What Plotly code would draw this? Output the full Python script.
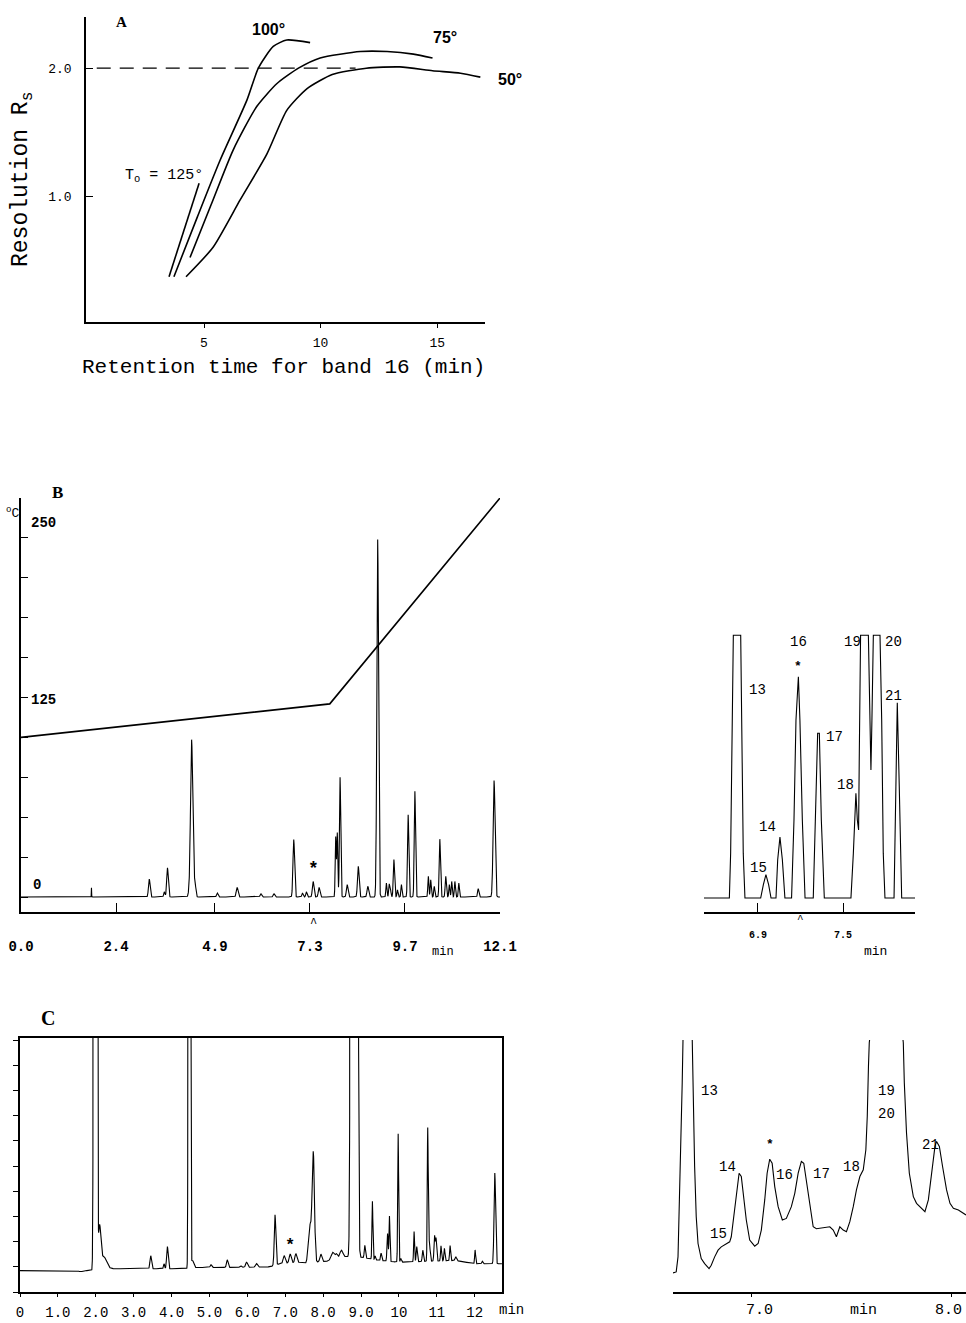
import numpy as np
import plotly.graph_objects as go

W, H = 966, 1323
def fx(p): return p / W
def fy(p): return 1 - p / H

MONO = "Liberation Mono"
SERIF = "Liberation Serif"

# ---------------- Panel A: resolution vs retention time ----------------
a125_x = [3.5, 4.79]
a125_y = [0.37, 1.10]
a100_x = [3.71, 4.7, 5.69, 6.84, 7.33, 7.97, 8.55, 9.55]
a100_y = [0.37, 0.83, 1.28, 1.75, 2.00, 2.17, 2.22, 2.20]
a75_x = [4.40, 5.3, 6.25, 7.26, 8.13, 9.05, 9.98, 11.7, 12.85, 13.98, 14.8]
a75_y = [0.52, 0.93, 1.36, 1.70, 1.88, 2.00, 2.08, 2.13, 2.13, 2.11, 2.08]
a50_x = [4.23, 5.39, 6.55, 7.70, 8.55, 9.42, 10.5, 11.96, 13.4, 14.8, 16.0, 16.85]
a50_y = [0.37, 0.60, 0.97, 1.33, 1.67, 1.84, 1.95, 2.00, 2.01, 1.98, 1.96, 1.93]
a_ref_x = [0.4, 11.5]
a_ref_y = [2.0, 2.0]
a_xticks = [5, 10, 15]
a_yticks = [1.0, 2.0]

# ---------------- Panel B: temperature program + chromatogram ----------------
temp_t = [0.0, 7.8, 12.1]
temp_c = [100, 121, 250]
b_peak_t = [1.78, 3.24, 3.62, 3.70, 4.25, 4.31, 4.39, 4.96, 5.46, 6.06, 6.39, 6.89,
            7.11, 7.21, 7.38, 7.53, 7.95, 7.99, 8.06, 8.24, 8.52, 8.76, 9.01, 9.23,
            9.30, 9.33, 9.42, 9.51, 9.61, 9.78, 9.95, 10.29, 10.35, 10.44, 10.58,
            10.73, 10.82, 10.88, 10.96, 11.06, 11.55, 11.95]
b_peak_h = [2.3, 4.5, 1.3, 7.3, 1.4, 39.4, 4.0, 1.0, 2.4, 0.8, 0.8, 14.4,
            1.0, 1.3, 3.9, 2.4, 15.0, 16.0, 30.0, 3.1, 7.7, 2.7, 89.6, 3.5,
            3.1, 2.3, 9.4, 1.8, 3.1, 20.6, 26.5, 5.2, 4.3, 2.7, 14.5,
            5.2, 3.1, 3.9, 3.9, 3.5, 2.1, 29.2]
b_peak_w = [0.004, 0.02, 0.016, 0.02, 0.022, 0.027, 0.022, 0.02, 0.022, 0.02, 0.02, 0.02,
            0.016, 0.016, 0.02, 0.02, 0.013, 0.013, 0.016, 0.02, 0.02, 0.02, 0.021, 0.013,
            0.013, 0.013, 0.016, 0.013, 0.013, 0.016, 0.016, 0.013, 0.013, 0.013, 0.016,
            0.015, 0.013, 0.013, 0.013, 0.013, 0.016, 0.024]
b_xticks = [0.0, 2.4, 4.9, 7.3, 9.7, 12.1]
b_temp_ticks = list(range(0, 251, 25))

# ---------------- Panel B inset (trace) ----------------
bi_t = [6.519, 6.698, 6.707, 6.719, 6.726, 6.778, 6.785, 6.796, 6.808, 6.919, 6.938,
        6.956, 6.975, 6.992, 7.027, 7.039, 7.055, 7.072, 7.090, 7.137, 7.154, 7.168,
        7.185, 7.196, 7.213, 7.232, 7.290, 7.307, 7.321, 7.333, 7.347, 7.368, 7.556,
        7.573, 7.591, 7.601, 7.610, 7.615, 7.624, 7.679, 7.690, 7.697, 7.704, 7.714,
        7.761, 7.773, 7.784, 7.796, 7.860, 7.871, 7.883, 7.897, 7.914, 8.008]
bi_y = [0, 0, 17.1, 67.7, 100, 100, 67.7, 17.1, 0, 0, 5.1,
        8.9, 5.1, 0, 0, 14.6, 23.2, 14.6, 0, 0, 29.7, 67.7,
        84.2, 67.7, 29.7, 0, 0, 29.7, 62.7, 62.7, 29.7, 0, 0,
        17.1, 39.9, 29.7, 25.9, 55.1, 100, 100, 67.7, 48.7, 67.7, 100,
        100, 67.7, 17.1, 0, 0, 42.4, 74.3, 42.4, 0, 0]
bi_xticks = [6.9, 7.5]

# ---------------- Panel C main chromatogram ----------------
c_base_t = [0.0, 1.5, 1.6, 1.7, 1.9, 2.3, 2.5, 4.3, 4.6, 6.0, 6.6, 6.8, 7.0, 7.4,
            7.55, 7.9, 8.1, 8.6, 9.0, 9.5, 10.0, 11.5, 12.0, 12.72]
c_base_y = [0.85, 0.85, 0.80, 0.85, 0.85, 0.95, 0.92, 0.92, 0.97, 0.98, 1.0, 1.1, 1.15, 1.18,
            1.12, 1.2, 1.22, 1.4, 1.38, 1.25, 1.18, 1.25, 1.12, 1.12]
c_peak_t = [1.99, 2.10, 2.20, 3.45, 3.80, 3.89, 4.47, 4.55, 5.04, 5.47, 5.82, 5.98,
            6.24, 6.73, 6.97, 7.13, 7.28, 7.65, 7.74, 7.94, 8.25, 8.35, 8.48, 8.82,
            9.10, 9.30, 9.37, 9.53, 9.70, 9.75, 9.98, 10.05, 10.40, 10.47, 10.63,
            10.76, 10.80, 10.94, 10.98, 11.11, 11.20, 11.35, 11.50, 12.01, 12.20, 12.53]
c_peak_h = [400, 1.6, 0.5, 0.52, 0.2, 0.88, 300, 0.3, 0.11, 0.3, 0.07, 0.2,
            0.14, 2.0, 0.3, 0.35, 0.35, 1.5, 4.3, 0.3, 0.3, 0.2, 0.3, 2000,
            0.5, 2.3, 0.15, 0.3, 1.1, 1.8, 5.1, 0.15, 1.2, 0.6, 0.45,
            5.2, 0.8, 1.0, 0.9, 0.6, 0.5, 0.6, 0.15, 0.55, 0.1, 3.6]
c_peak_w = [0.022, 0.03, 0.07, 0.02, 0.015, 0.02, 0.015, 0.03, 0.02, 0.02, 0.02, 0.025,
            0.025, 0.02, 0.025, 0.025, 0.025, 0.04, 0.03, 0.025, 0.04, 0.03, 0.04, 0.035,
            0.015, 0.012, 0.012, 0.015, 0.015, 0.012, 0.012, 0.015, 0.012, 0.015, 0.015,
            0.012, 0.02, 0.015, 0.015, 0.013, 0.013, 0.013, 0.02, 0.012, 0.015, 0.02]
c_xticks = [0, 1, 2, 3, 4, 5, 6, 7, 8, 9, 10, 11, 12]
c_xlabels = ["0", "1.0", "2.0", "3.0", "4.0", "5.0", "6.0", "7.0", "8.0", "9.0", "10", "11", "12"]

# ---------------- Panel C inset (trace) ----------------
ci_t = [6.607, 6.623, 6.632, 6.640, 6.648, 6.653, 6.657, 6.680, 6.703, 6.707, 6.715, 6.723,
        6.732, 6.748, 6.765, 6.787, 6.798, 6.815, 6.832, 6.848, 6.873, 6.890, 6.898, 6.910,
        6.923, 6.937, 6.948, 6.960, 6.973, 6.990, 7.015, 7.032, 7.048, 7.065, 7.077, 7.090,
        7.102, 7.115, 7.132, 7.153, 7.173, 7.198, 7.215, 7.232, 7.248, 7.260, 7.273, 7.290,
        7.307, 7.323, 7.357, 7.390, 7.407, 7.423, 7.440, 7.457, 7.473, 7.490, 7.507, 7.523,
        7.540, 7.557, 7.570, 7.577, 7.583, 7.587, 7.673, 7.757, 7.762, 7.773, 7.787, 7.807,
        7.823, 7.848, 7.865, 7.882, 7.898, 7.915, 7.923, 7.937, 7.953, 7.973, 7.990, 8.007,
        8.032, 8.057, 8.070]
ci_y = [1.9, 2.0, 3.5, 9.17, 15.83, 20.83, 25.17, 40, 25.17, 19.17, 12.5, 7.5,
        4.83, 3.33, 2.83, 2.33, 2.67, 3.5, 4.17, 4.5, 4.83, 5.0, 5.5, 7.5,
        9.83, 11.83, 11.5, 9.5, 7.17, 5.17, 4.57, 4.83, 6.17, 9.17, 11.83, 13.23,
        12.83, 10.5, 8.5, 7.17, 7.33, 8.5, 9.83, 11.83, 13.0, 12.83, 11.17, 8.83,
        6.5, 6.3, 6.43, 6.5, 6.17, 5.5, 6.5, 6.17, 6.0, 7.0, 8.5, 10.17,
        11.5, 12.17, 14.17, 17.5, 22.5, 24.83, 40, 24.83, 20.83, 15.83, 11.83, 9.5,
        8.83, 8.33, 8.0, 9.17, 11.83, 14.5, 15.0, 14.5, 12.5, 10.17, 8.83, 8.33,
        8.17, 7.83, 7.67]
ci_xticks = [7.0, 8.0]


def peaks_sum(t, pt, ph, pw):
    s = np.zeros_like(t)
    for t0, h, w in zip(pt, ph, pw):
        s += h * np.exp(-0.5 * ((t - t0) / w) ** 2)
    return s


fig = go.Figure()

# Panel A traces
for xs, ys in [(a125_x, a125_y), (a100_x, a100_y), (a75_x, a75_y), (a50_x, a50_y)]:
    fig.add_trace(go.Scatter(x=xs, y=ys, mode="lines", xaxis="x", yaxis="y",
                             line=dict(color="black", width=1.6, shape="spline", smoothing=0.6),
                             hoverinfo="skip"))
fig.add_trace(go.Scatter(x=a_ref_x, y=a_ref_y, mode="lines", xaxis="x", yaxis="y",
                         line=dict(color="black", width=1.2, dash="14px,9px"), hoverinfo="skip"))

# Panel B main
tB = np.arange(0.0, 12.1 + 1e-9, 0.002)
sB = peaks_sum(tB, b_peak_t, b_peak_h, b_peak_w)
fig.add_trace(go.Scatter(x=tB, y=sB, mode="lines", xaxis="x2", yaxis="y3",
                         line=dict(color="black", width=1.1), hoverinfo="skip"))
fig.add_trace(go.Scatter(x=temp_t, y=temp_c, mode="lines", xaxis="x2", yaxis="y2",
                         line=dict(color="black", width=1.6), hoverinfo="skip"))

# Panel B inset
fig.add_trace(go.Scatter(x=bi_t, y=bi_y, mode="lines", xaxis="x4", yaxis="y4",
                         line=dict(color="black", width=1.1), hoverinfo="skip"))

# Panel C main
tC = np.arange(0.0, 12.72, 0.002)
sC = np.interp(tC, c_base_t, c_base_y) + peaks_sum(tC, c_peak_t, c_peak_h, c_peak_w)
fig.add_trace(go.Scatter(x=tC, y=sC, mode="lines", xaxis="x5", yaxis="y5",
                         line=dict(color="black", width=1.1), hoverinfo="skip"))

# Panel C inset
fig.add_trace(go.Scatter(x=ci_t, y=ci_y, mode="lines", xaxis="x6", yaxis="y6",
                         line=dict(color="black", width=1.1), hoverinfo="skip"))

ax_common = dict(showgrid=False, zeroline=False, showline=True, linecolor="black",
                 linewidth=1.5, tickcolor="black", tickwidth=1.3, automargin=False)

fig.update_layout(
    width=W, height=H, margin=dict(l=0, r=0, t=0, b=0, pad=0, autoexpand=False),
    paper_bgcolor="white", plot_bgcolor="rgba(0,0,0,0)", showlegend=False,
    # A
    xaxis=dict(ax_common, domain=[fx(86), fx(485)], range=[-0.06, 17.05], anchor="y",
               tickvals=a_xticks, ticks="outside", ticklen=4,
               tickfont=dict(family=MONO, size=13, color="black"), ticklabelstandoff=4),
    yaxis=dict(ax_common, domain=[fy(322), fy(17)], range=[0.016, 2.40], anchor="x",
               tickvals=a_yticks, ticktext=["1.0", "2.0"], ticks="inside", ticklen=7,
               tickfont=dict(family=MONO, size=13, color="black"), ticklabelstandoff=10),
    # B main
    xaxis2=dict(ax_common, domain=[fx(21), fx(500)], range=[0, 12.1], anchor="y2",
                tickvals=b_xticks, ticktext=["0.0", "2.4", "4.9", "7.3", "9.7", "12.1"],
                ticks="inside", ticklen=9,
                tickfont=dict(family=MONO, size=14, color="black", weight="bold"),
                ticklabelstandoff=20),
    yaxis2=dict(ax_common, domain=[fy(912), fy(498)], range=[-9.4, 250], anchor="x2",
                tickvals=b_temp_ticks, ticks="inside", ticklen=7, showticklabels=False),
    yaxis3=dict(overlaying="y2", range=[-3.76, 100], visible=False, anchor="x2",
                automargin=False),
    # B inset
    xaxis4=dict(ax_common, domain=[fx(704), fx(915)], range=[6.519, 8.008], anchor="y4",
                tickvals=bi_xticks, ticktext=["6.9", "7.5"], ticks="inside", ticklen=9,
                tickfont=dict(family=MONO, size=10, color="black", weight="bold"),
                ticklabelstandoff=12),
    yaxis4=dict(domain=[fy(912), fy(634)], range=[-5.3, 100.5], visible=False, anchor="x4",
                automargin=False),
    # C main
    xaxis5=dict(ax_common, domain=[fx(20), fx(502)], range=[0.0, 12.72], anchor="y5",
                mirror=True, tickvals=c_xticks, ticktext=c_xlabels, ticks="outside", ticklen=3,
                tickfont=dict(family=MONO, size=14, color="black"), ticklabelstandoff=3),
    yaxis5=dict(ax_common, domain=[fy(1292), fy(1038)], range=[0, 10.08], anchor="x5",
                mirror=True, tickvals=list(range(0, 11)), ticks="outside", ticklen=5,
                showticklabels=False),
    # C inset
    xaxis6=dict(ax_common, domain=[fx(673), fx(966)], range=[6.607, 8.07], anchor="y6",
                tickvals=ci_xticks, ticks="outside", ticklen=3, showticklabels=False),
    yaxis6=dict(domain=[fy(1292), fy(1040)], range=[0, 25.1], visible=False, anchor="x6",
                automargin=False),
)

annotations = []
def ann(text, px, py, size=14, family=MONO, weight="normal", angle=0, xanchor="center"):
    annotations.append(dict(text=text, x=fx(px), y=fy(py), xref="paper", yref="paper",
                            showarrow=False, xanchor=xanchor, yanchor="middle",
                            textangle=angle,
                            font=dict(family=family, size=size, color="black", weight=weight)))

# Panel A text
ann("A", 121, 22, 15, SERIF, "bold")
ann("100°", 268, 30, 16, "Liberation Sans", "bold")
ann("75°", 445, 37, 16, "Liberation Sans", "bold")
ann("50°", 510, 80, 16, "Liberation Sans", "bold")
ann("T<sub>o</sub> = 125°", 164, 176, 15)
ann("Resolution R<sub>s</sub>", 22, 180, 23, angle=-90)
ann("Retention time for band 16 (min)", 283, 367, 21)

# Panel B text
ann("B", 57, 492, 17, SERIF, "bold")
ann("<sup>o</sup>C", 12, 512, 13)
ann("250", 43, 523, 14, weight="bold")
ann("125", 43, 700, 14, weight="bold")
ann("0", 37, 885, 14, weight="bold")
ann("*", 313, 869, 18, weight="bold")
ann("^", 313, 924, 12)
ann("min", 443, 952, 12)

# B inset labels
for txt, px, py in [("13", 757, 690), ("14", 767, 827), ("15", 758, 868), ("16", 798, 642),
                    ("17", 834, 737), ("18", 845, 785), ("19", 852, 642), ("20", 893, 642),
                    ("21", 893, 696)]:
    ann(txt, px, py, 14)
ann("*", 798, 666, 13, weight="bold")
ann("^", 800, 919, 11)
ann("min", 875, 951, 13)

# Panel C text
ann("C", 48, 1018, 20, SERIF, "bold")
ann("*", 290, 1245, 17, weight="bold")
ann("min", 511, 1310, 14)

# C inset labels
for txt, px, py in [("13", 709, 1091), ("14", 727, 1167), ("15", 718, 1234), ("16", 784, 1175),
                    ("17", 821, 1174), ("18", 851, 1167), ("19", 886, 1091), ("20", 886, 1114),
                    ("21", 930, 1145)]:
    ann(txt, px, py, 14)
ann("*", 770, 1144, 13, weight="bold")
ann("7.0", 759, 1310, 15)
ann("min", 863, 1310, 15)
ann("8.0", 964, 1310, 15, xanchor="right")

fig.update_layout(annotations=annotations)
fig.write_html("out.html")
